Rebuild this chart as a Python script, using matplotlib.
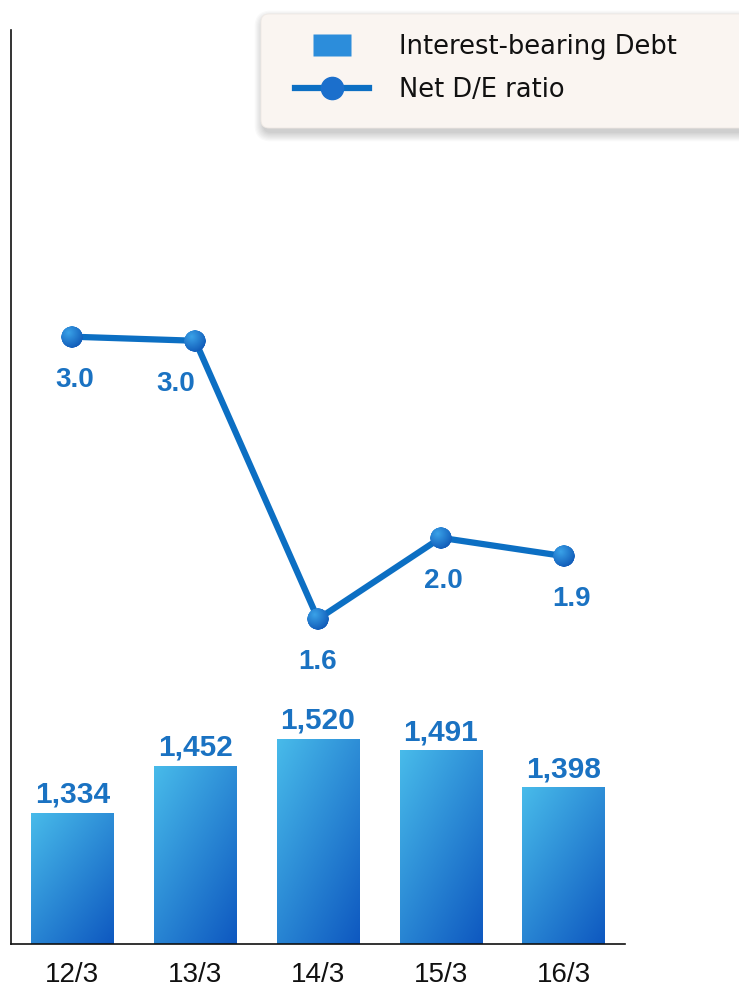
import numpy as np
import matplotlib
matplotlib.use('Agg')
import matplotlib.pyplot as plt
from matplotlib.colors import LinearSegmentedColormap, to_rgb
from matplotlib.patches import FancyBboxPatch
from matplotlib.lines import Line2D
from matplotlib.offsetbox import OffsetImage, AnnotationBbox
from matplotlib.transforms import IdentityTransform

# ---- data ----
categories = ['12/3', '13/3', '14/3', '15/3', '16/3']
debt = [1334, 1452, 1520, 1491, 1398]
de_ratio = [2.99, 2.97, 1.60, 2.00, 1.91]
de_labels = ['3.0', '3.0', '1.6', '2.0', '1.9']
legend_labels = ['Interest-bearing Debt', 'Net D/E ratio']

# ---- style ----
W, H = 739, 992
LIGHT, DARK = '#48bbea', '#0e58c0'
LINE_C = '#0c6fc3'
TXT_C = '#1a72c2'
label_dx = [2, -14, 0, 2, 6]   # points, small horizontal shifts of ratio labels

fig = plt.figure(figsize=(W / 100, H / 100), dpi=100)
ax = fig.add_axes([11 / W, 48 / H, 614 / W, 914 / H])
x = np.arange(len(categories))
ymin, ymax = 1005, 3300

bars = ax.bar(x, debt, width=0.67, color='none', edgecolor='none', zorder=2)
cmap = LinearSegmentedColormap.from_list('g', [LIGHT, DARK])
gy, gx = np.mgrid[0:1:200j, 0:1:100j]
grad = 0.45 * gx + 0.55 * gy
for b in bars:
    x0, w, h = b.get_x(), b.get_width(), b.get_height()
    im = ax.imshow(grad, cmap=cmap, extent=[x0, x0 + w, ymin, h], origin='upper',
                   aspect='auto', zorder=2, interpolation='bicubic')
    im.set_clip_path(b)

for xi, v in zip(x, debt):
    ax.annotate(f'{v:,}', (xi, v), xytext=(0, 3), textcoords='offset points',
                ha='center', va='bottom', fontsize=21.5, fontweight='bold',
                color=TXT_C, family='Liberation Sans')

ax.set_xlim(-0.5, 4.5)
ax.set_ylim(ymin, ymax)
ax.set_xticks(x, categories, fontsize=20, family='Liberation Sans', color='#111111')
ax.set_yticks([])
ax.tick_params(axis='x', length=0, pad=13)
for s in ['top', 'right']:
    ax.spines[s].set_visible(False)
for s in ['left', 'bottom']:
    ax.spines[s].set_linewidth(1.2)
    ax.spines[s].set_color('#111111')

# ---- ratio line ----
ax2 = ax.twinx()
ax2.set_ylim(0, 4.5)
ax2.set_yticks([])
for s in ax2.spines.values():
    s.set_visible(False)
ax2.plot(x, de_ratio, color=LINE_C, lw=4.5, zorder=3, solid_capstyle='round')

# sphere marker image
N = 64
yy, xx = np.mgrid[0:N, 0:N] + 0.5
r = np.hypot(xx - N / 2, yy - N / 2)
alpha = np.clip((N / 2 - r) / 1.5, 0, 1)
d = np.hypot(xx - N * 0.35, yy - N * 0.3) / (N * 0.85)
d = np.clip(d, 0, 1)
c1, c2 = np.array(to_rgb('#3aa2e8')), np.array(to_rgb('#0a4fb0'))
img = np.zeros((N, N, 4))
img[..., :3] = c1 * (1 - d[..., None]) + c2 * d[..., None]
img[..., 3] = alpha
zoom = 22 / (N * 100 / 72)
for xi, v in zip(x, de_ratio):
    ab = AnnotationBbox(OffsetImage(img, zoom=zoom), (xi, v), frameon=False, zorder=4)
    ax2.add_artist(ab)

for xi, v, lbl, dx in zip(x, de_ratio, de_labels, label_dx):
    ax2.annotate(lbl, (xi, v), xytext=(dx, -31), textcoords='offset points',
                 ha='center', va='center', fontsize=20, fontweight='bold',
                 color=TXT_C, family='Liberation Sans')

# ---- legend ----
bx0, by0, bw, bh = 261, H - 128, 500, 114
# soft shadow: stacked translucent boxes
for k in range(8):
    grow = k * 1.2
    fig.patches.append(FancyBboxPatch((bx0 + 2 - grow, by0 - 5 - grow), bw + 2 * grow, bh + 2 * grow,
                                      boxstyle=f'round,pad=0,rounding_size={8 + grow}',
                                      transform=IdentityTransform(), facecolor='#000000',
                                      edgecolor='none', alpha=0.025, zorder=5))
fig.patches.append(FancyBboxPatch((bx0, by0), bw, bh, boxstyle='round,pad=0,rounding_size=8',
                                  transform=IdentityTransform(), facecolor='#faf5f1',
                                  edgecolor='#efe9e4', lw=0.6, zorder=6))

rect_verts = [(-1, -0.6), (1, -0.6), (1, 0.6), (-1, 0.6), (-1, -0.6)]
h1 = Line2D([], [], marker=rect_verts, markersize=27, linestyle='none',
            markerfacecolor='#2c8ddb', markeredgecolor='none')
h2 = Line2D([], [], color=LINE_C, lw=4.5, marker='o', markersize=16,
            markerfacecolor='#1b6fcc', markeredgecolor='#1b6fcc')
leg = fig.legend([h1, h2], legend_labels, loc='upper left',
                 bbox_to_anchor=(295 / W, 1 - 34 / H), frameon=False,
                 prop={'family': 'DejaVu Sans', 'size': 18.5},
                 handlelength=2.88, handletextpad=1.17, labelspacing=0.68,
                 borderpad=0, borderaxespad=0)
leg.set_zorder(7)
for t in leg.get_texts():
    t.set_color('#111111')

fig.savefig('out.png', dpi=100)
